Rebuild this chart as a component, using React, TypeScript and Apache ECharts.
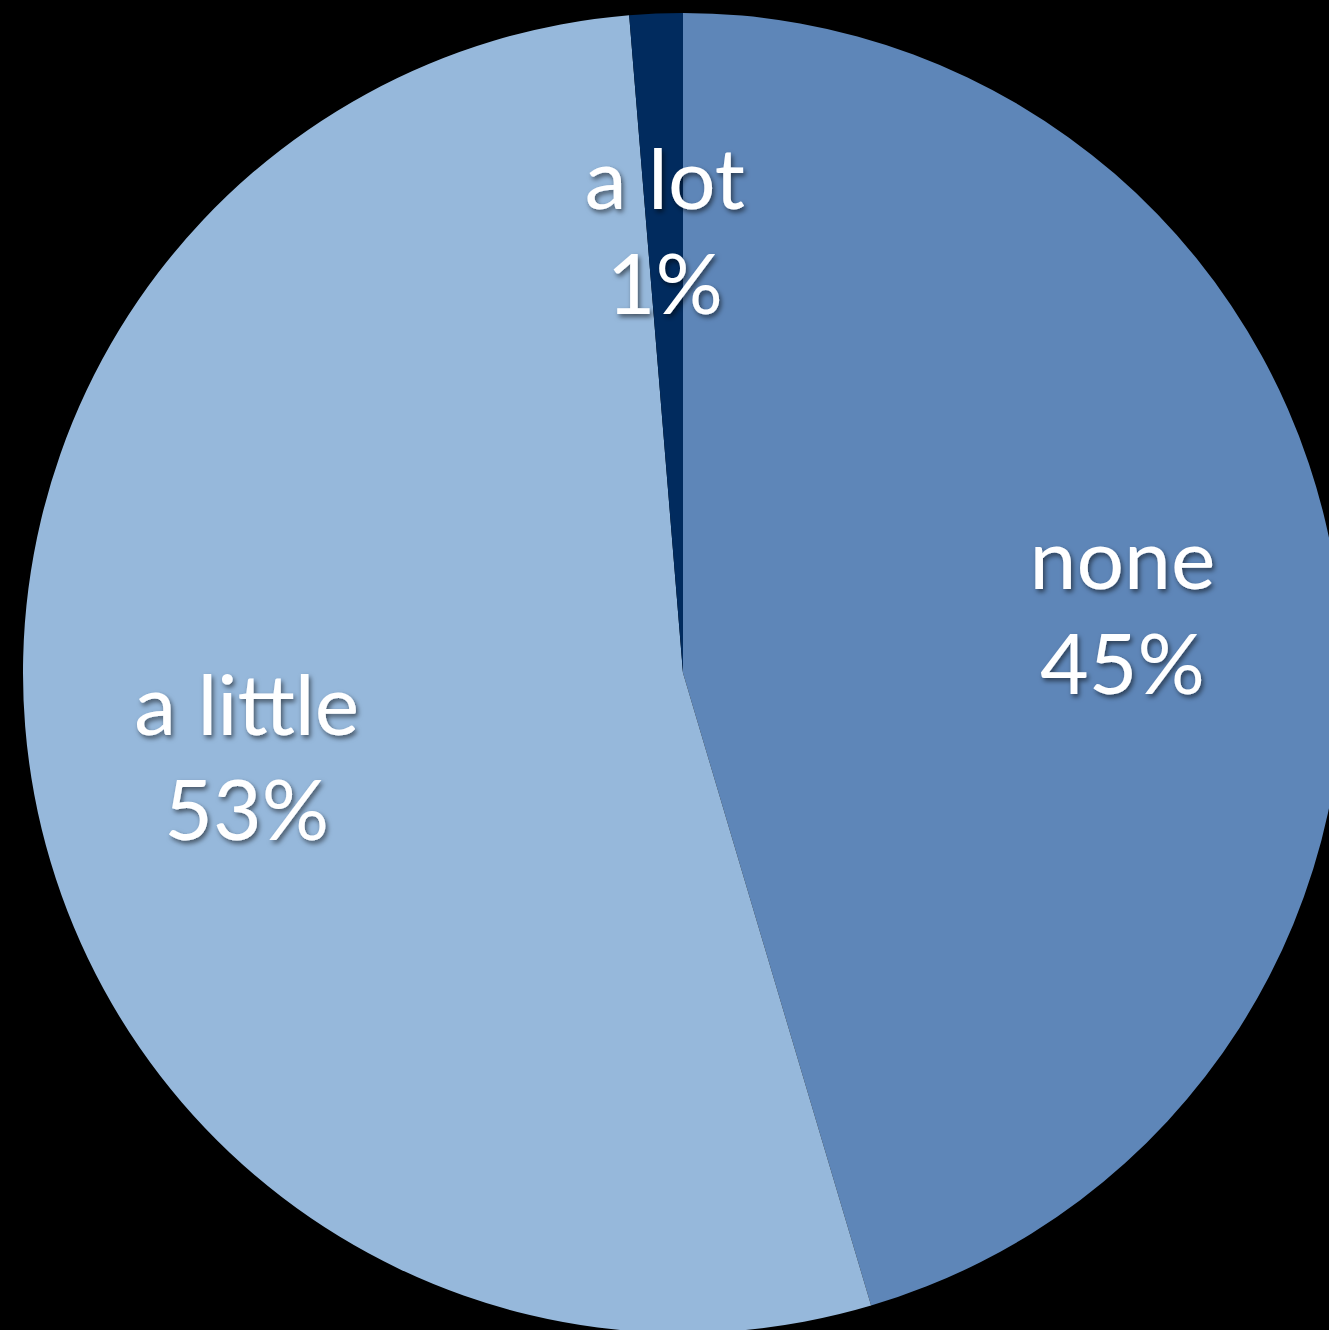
import React, { useEffect, useRef } from "react";
import * as echarts from "echarts";

const categories = ["none", "a little", "a lot"];
const values = [45.4, 53.3, 1.3];
const colors = ["#5E86B8", "#96B8DB", "#012B5E"];

export default function App() {
  const ref = useRef<HTMLDivElement>(null);
  useEffect(() => {
    if (!ref.current) return;
    const chart = echarts.init(ref.current, null, { renderer: "svg" });
    const data = categories.map((name, i) => ({
      name,
      value: values[i],
      itemStyle: { color: colors[i] },
    }));
    chart.setOption({
      animation: false,
      backgroundColor: "#000000",
      series: [
        {
          type: "pie",
          center: [683, 673],
          radius: [0, 660],
          startAngle: 90,
          clockwise: true,
          data,
          label: { show: false },
          labelLine: { show: false },
          itemStyle: { borderWidth: 0 },
          silent: true,
        },
        {
          type: "pie",
          center: [683, 673],
          radius: [420, 462],
          startAngle: 90,
          clockwise: true,
          data: categories.map((name, i) => ({
            name,
            value: values[i],
            itemStyle: { color: "rgba(0,0,0,0)" },
          })),
          silent: true,
          itemStyle: { borderWidth: 0 },
          labelLine: { show: false },
          label: {
            show: true,
            position: "inside",
            formatter: (p: any) => `${p.name}\n${Math.round(p.percent)}%`,
            color: "#ffffff",
            fontFamily: "Lato",
            fontSize: 84,
            lineHeight: 105,
            align: "center",
            textShadowColor: "rgba(0,0,0,0.55)",
            textShadowBlur: 5,
            textShadowOffsetX: 2,
            textShadowOffsetY: 3,
          },
        },
      ],
    });
    return () => chart.dispose();
  }, []);
  return (
    <div
      ref={ref}
      style={{ position: "absolute", left: 0, top: 0, width: 1329, height: 1330 }}
    />
  );
}
